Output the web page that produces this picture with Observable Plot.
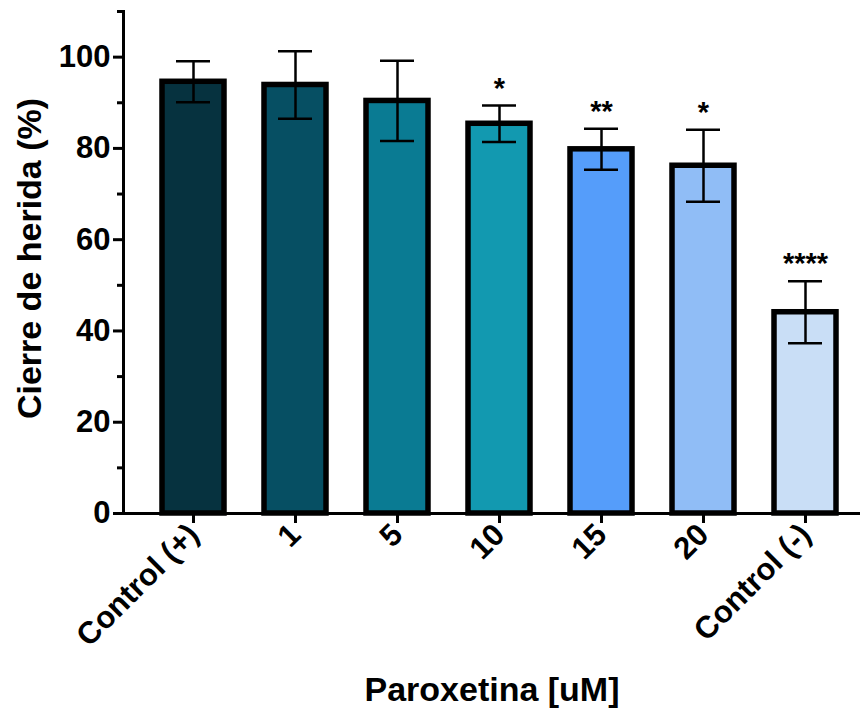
<!DOCTYPE html>
<html>
<head>
<meta charset="utf-8">
<script src="https://cdn.jsdelivr.net/npm/d3@7"></script>
<script src="https://cdn.jsdelivr.net/npm/@observablehq/plot@0.6"></script>
<style>
  html, body { margin: 0; padding: 0; background: #fff; }
  #chart svg { display: block; }
</style>
</head>
<body>
<div id="chart"></div>
<script>
const categories = ["Control (+)", "1", "5", "10", "15", "20", "Control (-)"];
const means = [94.6, 93.9, 90.4, 85.4, 79.8, 76.2, 44.1];
const sds = [4.5, 7.4, 8.8, 4.0, 4.5, 7.9, 6.8];
const stars = ["", "", "", "*", "**", "*", "****"];
const colors = ["#06323f", "#064f63", "#0a7b93", "#1299b0", "#559dfa", "#90bdf6", "#c9def6"];
const majorTicks = [0, 20, 40, 60, 80, 100];
const minorTicks = [10, 30, 50, 70, 90, 110];
const yLabel = "Cierre de herida (%)";
const xLabel = "Paroxetina [uM]";

const data = categories.map((c, i) => ({
  cat: c, mean: means[i], sd: sds[i], star: stars[i], color: colors[i]
}));

const font = "'Liberation Sans', Arial, sans-serif";

const chart = Plot.plot({
  width: 865,
  height: 715,
  marginLeft: 123,
  marginRight: 5,
  marginTop: 11,
  marginBottom: 202,
  style: { fontFamily: font, background: "#fff", color: "#000" },
  x: { domain: categories, paddingInner: 0.396, paddingOuter: 0.287, align: 0.61, label: null },
  y: { domain: [0, 110], label: null },
  color: { type: "identity" },
  marks: [
    Plot.barY(data, { x: "cat", y: "mean", fill: "color", stroke: "#000", strokeWidth: 5.5 }),
    Plot.ruleX(data, { x: "cat", y1: d => d.mean - d.sd, y2: d => d.mean + d.sd, stroke: "#000", strokeWidth: 2.5 }),
    Plot.tickY(data, { x: "cat", y: d => d.mean + d.sd, insetLeft: 14, insetRight: 14, stroke: "#000", strokeWidth: 2.5 }),
    Plot.tickY(data, { x: "cat", y: d => d.mean - d.sd, insetLeft: 14, insetRight: 14, stroke: "#000", strokeWidth: 2.5 }),
    Plot.text(data, { x: "cat", y: d => d.mean + d.sd, text: "star", dy: -17, fontSize: 29, fontWeight: "bold", fill: "#000", lineAnchor: "middle", style: { letterSpacing: "1px" } }),
    Plot.ruleY([0], { stroke: "#000", strokeWidth: 3 }),
    Plot.frame({ anchor: "left", stroke: "#000", strokeWidth: 3 }),
    Plot.axisY({ ticks: majorTicks, tickSize: 10, tickPadding: 3, strokeWidth: 3, fontSize: 31, fontWeight: "bold", fill: "#000", label: null }),
    Plot.axisY({ ticks: minorTicks, tickSize: 6, strokeWidth: 3, tickFormat: () => "", label: null }),
    Plot.axisX({ tickSize: 10, strokeWidth: 3, tickRotate: -45, tickPadding: 6, fontSize: 31, fontWeight: "bold", fill: "#000", label: null }),
    Plot.text([yLabel], { frameAnchor: "left", rotate: -90, dx: -93, dy: -4, fontSize: 34, fontWeight: "bold", fill: "#000", textAnchor: "middle", lineAnchor: "middle" }),
    Plot.text([xLabel], { frameAnchor: "bottom", dy: 177, fontSize: 34, fontWeight: "bold", fill: "#000", textAnchor: "middle", lineAnchor: "middle" })
  ]
});
document.getElementById("chart").appendChild(chart);
</script>
</body>
</html>
